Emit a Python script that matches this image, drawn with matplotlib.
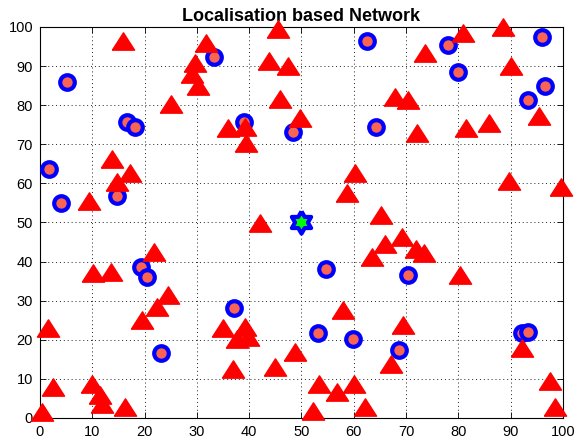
import numpy as np
import matplotlib
matplotlib.use("Agg")
import matplotlib.pyplot as plt

# node positions
tri_x = [15.9, 9.4, 13.7, 14.7, 17.2, 25.0, 31.7, 29.6, 29.0, 30.3,
         36.0, 39.2, 39.5, 45.6, 43.8, 47.5, 45.9, 42.1, 49.7, 80.9,
         88.5, 73.7, 90.0, 67.9, 70.4, 95.5, 72.2, 81.4, 85.9, 60.2,
         58.8, 89.7, 99.6, 65.3, 21.8, 10.2, 13.6, 24.5, 22.3, 19.6,
         1.5, 35.0, 39.2, 37.6, 39.8, 37.0, 44.9, 48.8, 2.5, 9.9,
         11.5, 11.8, 16.3, 0.3, 66.0, 69.3, 63.6, 72.0, 73.4, 80.4,
         57.9, 69.5, 92.1, 67.1, 53.3, 56.9, 60.1, 62.1, 52.2, 97.6,
         98.6]
tri_y = [96.3, 55.5, 66.2, 60.4, 62.7, 80.3, 95.9, 90.8, 88.0, 85.0,
         74.1, 74.5, 70.4, 99.5, 91.2, 90.1, 81.6, 49.9, 76.7, 98.4,
         100.0, 93.3, 90.1, 82.2, 81.4, 77.3, 72.8, 74.1, 75.5, 62.6,
         57.6, 60.7, 59.2, 51.9, 42.5, 37.0, 37.4, 31.4, 28.3, 25.0,
         22.9, 22.9, 23.3, 20.3, 20.7, 12.5, 13.1, 16.9, 7.9, 8.8,
         5.8, 3.7, 2.8, 1.5, 44.6, 46.3, 41.2, 43.1, 42.1, 36.5,
         27.6, 23.7, 17.8, 13.9, 8.7, 6.7, 8.8, 2.9, 1.9, 9.5,
         2.8]

anchor_x = [5.1, 16.7, 18.2, 1.8, 4.0, 14.8, 33.2, 39.1, 48.4, 62.6,
            78.1, 96.0, 80.0, 96.6, 93.4, 64.2, 19.3, 20.4, 37.1, 23.1,
            54.7, 70.3, 53.1, 59.8, 92.2, 93.3, 68.6]
anchor_y = [85.9, 75.6, 74.5, 63.6, 54.9, 56.9, 92.2, 75.8, 73.1, 96.3,
            95.4, 97.4, 88.6, 85.0, 81.2, 74.3, 38.7, 36.0, 28.2, 16.5,
            38.0, 36.5, 21.8, 20.3, 21.7, 22.1, 17.3]

center_x = [50]
center_y = [50]

ticks = list(range(0, 101, 10))

# MATLAB style markers
tri_marker = [(-1, -0.78), (1, -0.78), (0, 0.78), (-1, -0.78)]
ang = np.deg2rad(90 + 30 * np.arange(12))
rad = np.where(np.arange(12) % 2 == 0, 1.0, 1 / np.sqrt(3))
hexagram = list(zip(rad * np.cos(ang), rad * np.sin(ang)))
hexagram.append(hexagram[0])

fig = plt.figure(figsize=(5.76, 4.46), dpi=100)
ax = fig.add_axes([0.0694, 0.0628, 0.9077, 0.8767])

ax.plot(anchor_x, anchor_y, linestyle='none', marker='o', markersize=10.5,
        markerfacecolor='#fa6450', markeredgecolor='#0000ff',
        markeredgewidth=3, clip_on=False, zorder=3)
ax.plot(tri_x, tri_y, linestyle='none', marker=tri_marker, markersize=16,
        markerfacecolor='#ff0000', markeredgecolor='#ff0000',
        markeredgewidth=1, clip_on=False, zorder=4)
ax.plot(center_x, center_y, linestyle='none', marker=hexagram, markersize=16,
        markerfacecolor='#00ff00', markeredgecolor='#0000ff',
        markeredgewidth=3, clip_on=False, zorder=5)

ax.set_xlim(0, 100)
ax.set_ylim(0, 100)
ax.set_xticks(ticks)
ax.set_yticks(ticks)
ax.tick_params(direction='in', top=True, right=True, length=4, width=0.6,
               labelsize=10.5, pad=5)
for lbl in ax.get_xticklabels() + ax.get_yticklabels():
    lbl.set_fontfamily('Liberation Sans')
ax.grid(True, color='#222222', linewidth=0.7, dashes=(1, 3))
ax.set_axisbelow(True)
for s in ax.spines.values():
    s.set_linewidth(0.8)

ax.set_title('Localisation based Network', fontsize=13, fontweight='bold',
             fontfamily='Liberation Sans', pad=4)

plt.savefig('out.png', dpi=100)
plt.close()
